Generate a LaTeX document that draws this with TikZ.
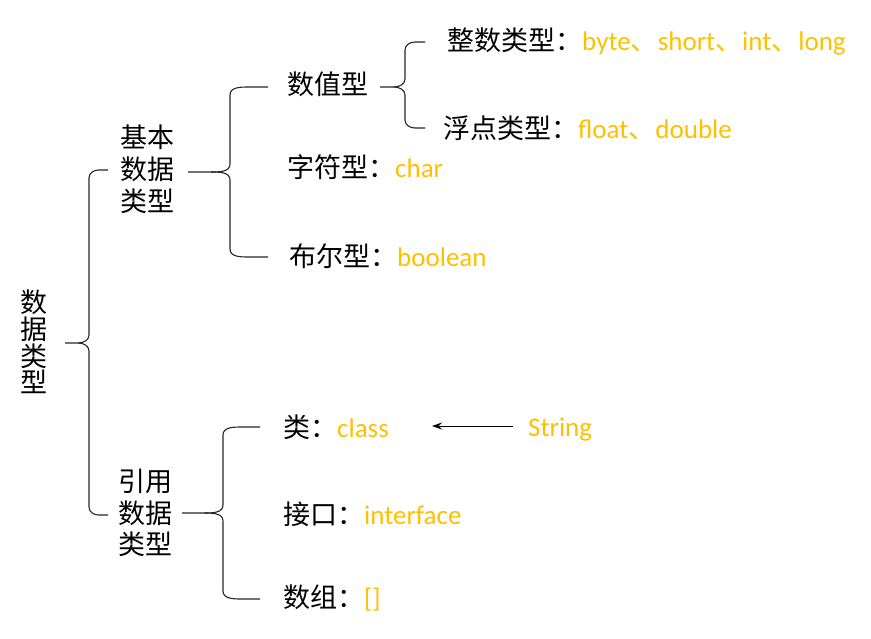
\documentclass[tikz,border=0pt]{standalone}
\usepackage{fontspec}
\setmainfont{Carlito}
\newfontfamily\cjk{Noto Sans CJK SC}
\usetikzlibrary{arrows.meta}
\definecolor{orgc}{HTML}{FFC000}
\tikzset{
  bracestyle/.style={line width=1.1pt, draw=black!85},
  txt/.style={anchor=base west, inner sep=0pt, font=\fontsize{27}{32}\selectfont},
  vtxt/.style={anchor=center, inner sep=0pt, align=center},
}
% #1 tip x, #2 spine x, #3 end x, #4 top y, #5 middle y, #6 bottom y
\newcommand{\mybrace}[6]{%
  \pgfmathsetmacro{\brArm}{#2+0.5*(#3-#2)}%
  \pgfmathsetmacro{\brMid}{#2-0.45*(#2-#1)}%
  \pgfmathsetmacro{\brTa}{#4+8}%
  \pgfmathsetmacro{\brMa}{#5-8}%
  \pgfmathsetmacro{\brMb}{#5+8}%
  \pgfmathsetmacro{\brBa}{#6-8}%
  \draw[bracestyle] (#3,#4) -- (\brArm,#4) to[out=180,in=90] (#2,\brTa) -- (#2,\brMa) to[out=-90,in=0] (\brMid,#5) -- (#1,#5);
  \draw[bracestyle] (\brMid,#5) to[out=0,in=90] (#2,\brMb) -- (#2,\brBa) to[out=-90,in=180] (\brArm,#6) -- (#3,#6);
}
\begin{document}
\begin{tikzpicture}[x=1pt,y=-1pt]
\useasboundingbox (0,0) rectangle (871,638);
% vertical labels
\node[vtxt, font=\cjk\fontsize{27}{26.7}\selectfont] (sjlx) at (34,342) {数\\据\\类\\型};
\node[vtxt, font=\cjk\fontsize{27}{32}\selectfont] (jb) at (147,169) {基本\\数据\\类型};
\node[vtxt, font=\cjk\fontsize{27}{31.5}\selectfont] (yy) at (145,513) {引用\\数据\\类型};
% horizontal labels
\node[txt] (zs) at (447,50.5) {{\cjk 整数类型：}\textcolor{orgc}{byte{\cjk 、}short{\cjk 、}int{\cjk 、}long}};
\node[txt] (szx) at (287,94.5) {\cjk 数值型};
\node[txt] (fd) at (443,138.5) {{\cjk 浮点类型：}\textcolor{orgc}{float{\cjk 、}double}};
\node[txt] (zf) at (287,177.5) {{\cjk 字符型：}\textcolor{orgc}{char}};
\node[txt] (be) at (289,266.5) {{\cjk 布尔型：}\textcolor{orgc}{boolean}};
\node[txt] (lei) at (283,437) {{\cjk 类：}\textcolor{orgc}{class}};
\node[txt] (jk) at (283,524.5) {{\cjk 接口：}\textcolor{orgc}{interface}};
\node[txt] (sz) at (283,607.5) {{\cjk 数组：}\textcolor{orgc}{[]}};
\node[txt] (str) at (528,436.5) {\textcolor{orgc}{String}};
% braces
\mybrace{65}{89}{108}{170}{343}{515}
\mybrace{188}{230}{268}{87}{172}{257}
\mybrace{380}{405}{425}{42}{87}{128}
\mybrace{182}{223}{260}{427}{513}{599}
% arrow String -> class
\coordinate (atail) at (513,426);
\coordinate (ahead) at (432,426);
\draw[line width=1pt, -{Stealth[length=10pt,width=7pt]}] (atail) -- (ahead);
\end{tikzpicture}
\end{document}
